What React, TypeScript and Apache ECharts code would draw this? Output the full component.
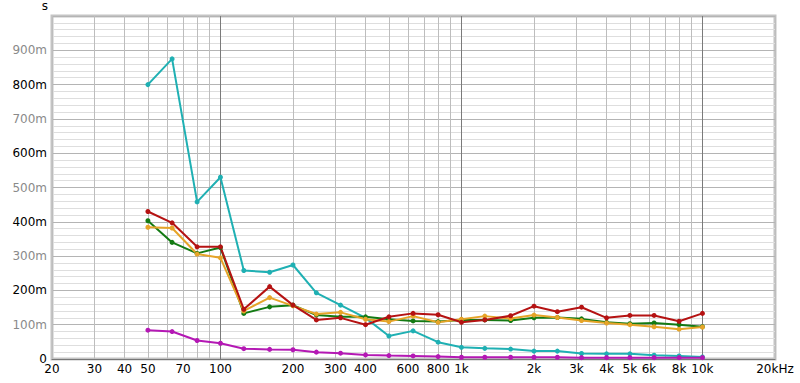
import React, { useEffect, useRef } from "react";
import * as echarts from "echarts";

const freqs = [50, 63, 80, 100, 125, 160, 200, 250, 315, 400, 500, 630, 800, 1000, 1250, 1600, 2000, 2500, 3150, 4000, 5000, 6300, 8000, 10000];
const cyan = [800, 875, 458, 530, 258, 253, 274, 193, 157, 120, 67, 82, 49, 34, 31, 29, 23, 23, 16, 15, 15, 11, 9, 6];
const green = [403, 340, 308, 325, 133, 152, 157, 128, 123, 123, 116, 111, 109, 114, 114, 112, 120, 121, 117, 107, 103, 105, 100, 94];
const orange = [384, 382, 306, 295, 140, 179, 155, 131, 136, 116, 109, 125, 107, 116, 125, 118, 128, 121, 112, 105, 100, 94, 87, 93];
const red = [430, 397, 327, 327, 145, 211, 157, 114, 120, 100, 123, 133, 129, 107, 114, 126, 154, 138, 151, 120, 127, 127, 110, 133];
const magenta = [84, 80, 54, 46, 30, 28, 27, 20, 17, 12, 10, 9, 7, 5, 5, 5, 5, 5, 4, 4, 4, 4, 4, 4];

const gridFreqs = [20, 30, 40, 50, 60, 70, 80, 90, 100, 200, 300, 400, 500, 600, 700, 800, 900, 1000, 2000, 3000, 4000, 5000, 6000, 7000, 8000, 9000, 10000, 20000];
const freqLabels: Record<number, string> = {
  20: "20", 30: "30", 40: "40", 50: "50", 70: "70", 100: "100", 200: "200", 300: "300", 400: "400",
  600: "600", 800: "800", 1000: "1k", 2000: "2k", 3000: "3k", 4000: "4k", 5000: "5k", 6000: "6k",
  8000: "8k", 10000: "10k", 20000: "20kHz",
};
const decades = [100, 1000, 10000];

const FONT = "DejaVu Sans";

export default function App() {
  const ref = useRef<HTMLDivElement>(null);
  useEffect(() => {
    if (!ref.current) return;
    const chart = echarts.init(ref.current, null, { renderer: "svg" });
    const mk = (name: string, color: string, vals: number[]) => ({
      name,
      type: "line",
      z: 5,
      data: freqs.map((f, i) => [f, vals[i]]),
      symbol: "circle",
      symbolSize: 5,
      lineStyle: { color, width: 2 },
      itemStyle: { color },
      emphasis: { disabled: true },
    });
    chart.setOption({
      animation: false,
      textStyle: { fontFamily: FONT },
      grid: {
        left: 52, right: 25, top: 16, bottom: 24,
        show: true, borderColor: "#c4c4c4", borderWidth: 3, backgroundColor: "#fff",
      },
      xAxis: {
        type: "log", logBase: 10, min: 20, max: 20000,
        axisLabel: { show: false },
        axisTick: { show: false },
        splitLine: { show: false },
        axisLine: { show: true, lineStyle: { color: "#777", width: 1 } },
      },
      yAxis: {
        type: "value", min: 0, max: 1000, interval: 100,
        name: "s", nameLocation: "end", nameGap: 4,
        nameTextStyle: { color: "#000", fontSize: 12, fontFamily: FONT, align: "right", padding: [0, 4, 0, 0] },
        axisLine: { show: false },
        axisTick: { show: false },
        axisLabel: {
          fontSize: 12, fontFamily: FONT, margin: 5,
          formatter: (v: number) => (v === 1000 ? "" : v === 0 ? "0" : v + "m"),
          color: (v: any) => (Number(v) % 200 === 0 ? "#000" : "#8a8a8a"),
        },
        splitLine: { show: true, lineStyle: { color: "#b4b4b4", width: 1 } },
        minorTick: { show: false, splitNumber: 5 },
        minorSplitLine: { show: true, lineStyle: { color: "#dedede", width: 1 } },
      },
      series: [
        {
          type: "line", data: [], z: 1, silent: true,
          markLine: {
            silent: true, symbol: ["none", "none"], animation: false,
            data: gridFreqs.map((f) => ({
              xAxis: f,
              lineStyle: { type: "solid", width: 1, color: decades.includes(f) ? "#7a7a7a" : "#bdbdbd" },
              label: {
                show: !!freqLabels[f], position: "start", formatter: freqLabels[f] || "",
                color: "#000", fontSize: 12, fontFamily: FONT, distance: 4,
              },
            })),
          },
        },
        mk("cyan", "#1fb0b3", cyan),
        mk("green", "#137a13", green),
        mk("orange", "#e6a428", orange),
        mk("red", "#b51212", red),
        mk("magenta", "#b418b4", magenta),
      ],
    });
    return () => chart.dispose();
  }, []);
  return <div ref={ref} style={{ position: "absolute", left: 0, top: 0, width: 800, height: 383 }} />;
}
